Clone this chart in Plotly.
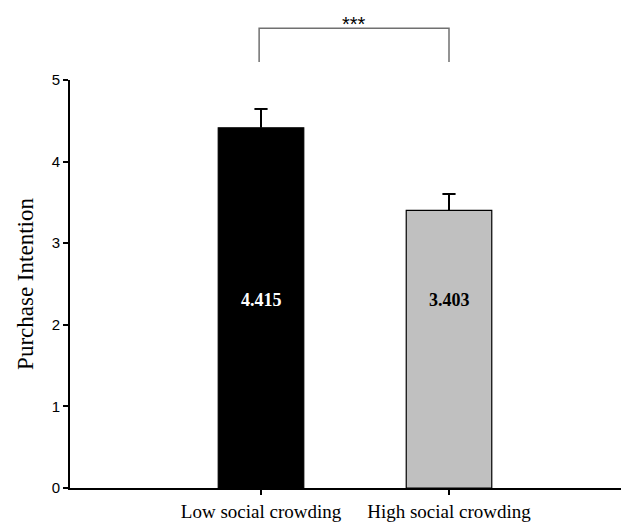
import plotly.graph_objects as go

categories = ["Low social crowding", "High social crowding"]
means = [4.415, 3.403]
errors = [0.23, 0.20]
value_labels = ["4.415", "3.403"]
significance = "***"

xpos = [0, 1]
xmin, xmax = -1.016, 2.0
cap_half = 0.035

def to_paper(x):
    return (x - xmin) / (xmax - xmin)

fig = go.Figure()
fig.add_trace(go.Bar(
    x=xpos, y=means, width=0.455,
    marker=dict(color=["#000000", "#c0c0c0"], line=dict(color="#000000", width=1.2)),
    showlegend=False,
))

# upward-only error bars (stem + cap), built from the data
ex, ey = [], []
for x, m, e in zip(xpos, means, errors):
    ex += [x, x, None, x - cap_half, x + cap_half, None]
    ey += [m, m + e, None, m + e, m + e, None]
fig.add_trace(go.Scatter(x=ex, y=ey, mode="lines", line=dict(color="#000000", width=2),
                         showlegend=False, hoverinfo="skip"))

for i, (x, lab) in enumerate(zip(xpos, value_labels)):
    fig.add_annotation(x=x, y=2.3, xref="x", yref="y", text=f"<b>{lab}</b>", showarrow=False,
                       font=dict(family="Liberation Serif", size=18,
                                 color="#ffffff" if i == 0 else "#000000"))

# significance bracket
x0, x1 = to_paper(xpos[0] - 0.01), to_paper(xpos[1])
ytop, ybot = 1.127, 1.044
fig.add_shape(type="path", xref="paper", yref="paper",
              path=f"M {x0},{ybot} L {x0},{ytop} L {x1},{ytop} L {x1},{ybot}",
              line=dict(color="#707070", width=1.5))
fig.add_annotation(x=(x0 + x1) / 2, y=1.137, xref="paper", yref="paper",
                   text=significance, showarrow=False, yanchor="middle",
                   font=dict(family="Liberation Sans", size=20, color="#000000"))

fig.update_layout(
    width=629, height=523,
    margin=dict(l=62, r=0, t=72, b=43),
    plot_bgcolor="white", paper_bgcolor="white",
    xaxis=dict(range=[xmin, xmax], tickvals=xpos, ticktext=categories,
               showline=True, linecolor="#000000", linewidth=2,
               ticks="outside", ticklen=5, tickcolor="#000000", tickwidth=1.5,
               showgrid=False, zeroline=False,
               tickfont=dict(family="Liberation Serif", size=19, color="#000000")),
    yaxis=dict(range=[0, 5], dtick=1, showline=True, linecolor="#000000", linewidth=2,
               ticks="outside", ticklen=5, tickcolor="#000000", tickwidth=1.5,
               showgrid=False, zeroline=False,
               tickfont=dict(family="Liberation Sans", size=15, color="#000000"),
               title=dict(text="Purchase Intention", standoff=12,
                          font=dict(family="Liberation Serif", size=23, color="#000000"))),
)

fig.write_html("out.html")
